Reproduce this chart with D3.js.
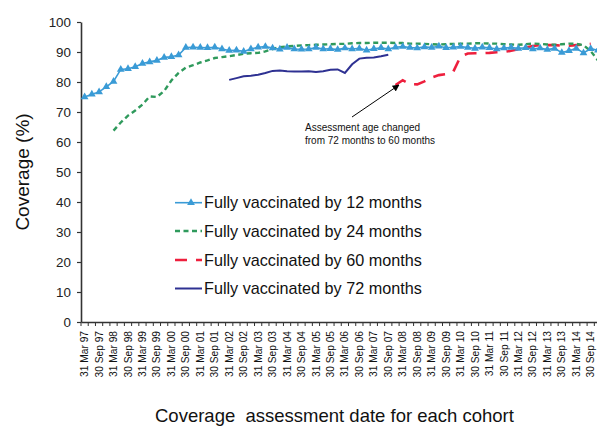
<!DOCTYPE html>
<html>
<head>
<meta charset="utf-8">
<script src="https://cdn.jsdelivr.net/npm/d3@7"></script>
<style>
  body { margin: 0; background: #fff; }
  svg { display: block; font-family: "Liberation Sans", Arial, sans-serif; }
</style>
</head>
<body>
<div id="chart"></div>
<script>
// quarterly assessment dates (categories)
const quarters = [
    "31 Mar 97", "30 Jun 97", "30 Sep 97", "31 Dec 97",
    "31 Mar 98", "30 Jun 98", "30 Sep 98", "31 Dec 98",
    "31 Mar 99", "30 Jun 99", "30 Sep 99", "31 Dec 99",
    "31 Mar 00", "30 Jun 00", "30 Sep 00", "31 Dec 00",
    "31 Mar 01", "30 Jun 01", "30 Sep 01", "31 Dec 01",
    "31 Mar 02", "30 Jun 02", "30 Sep 02", "31 Dec 02",
    "31 Mar 03", "30 Jun 03", "30 Sep 03", "31 Dec 03",
    "31 Mar 04", "30 Jun 04", "30 Sep 04", "31 Dec 04",
    "31 Mar 05", "30 Jun 05", "30 Sep 05", "31 Dec 05",
    "31 Mar 06", "30 Jun 06", "30 Sep 06", "31 Dec 06",
    "31 Mar 07", "30 Jun 07", "30 Sep 07", "31 Dec 07",
    "31 Mar 08", "30 Jun 08", "30 Sep 08", "31 Dec 08",
    "31 Mar 09", "30 Jun 09", "30 Sep 09", "31 Dec 09",
    "31 Mar 10", "30 Jun 10", "30 Sep 10", "31 Dec 10",
    "31 Mar 11", "30 Jun 11", "30 Sep 11", "31 Dec 11",
    "31 Mar 12", "30 Jun 12", "30 Sep 12", "31 Dec 12",
    "31 Mar 13", "30 Jun 13", "30 Sep 13", "31 Dec 13",
    "31 Mar 14", "30 Jun 14", "30 Sep 14", "31 Dec 14"
];

// only Mar / Sep are labelled
const tickLabels = quarters.filter((q, i) => i % 2 === 0);
const yTicks = [0, 10, 20, 30, 40, 50, 60, 70, 80, 90, 100];

// coverage (%) per quarter, null = no data
const by12 = [
    75.0, 75.9, 76.7, 78.4, 80.2, 84.2, 84.4, 85.1, 86.2, 86.7, 87.2, 88.2,
    88.4, 89.0, 91.5, 91.6, 91.5, 91.4, 91.6, 91.0, 90.5, 90.6, 90.2, 91.0,
    91.6, 91.8, 91.3, 90.9, 91.5, 91.0, 90.9, 91.0, 91.5, 91.0, 91.1, 90.8,
    91.3, 91.0, 91.2, 90.6, 91.1, 91.4, 91.0, 91.6, 91.8, 91.5, 91.3, 91.7,
    91.5, 91.9, 91.4, 91.6, 91.8, 91.5, 91.2, 91.6, 91.4, 91.0, 91.3, 91.5,
    91.2, 91.4, 91.0, 91.3, 90.8, 91.2, 89.8, 90.4, 91.2, 89.7, 91.1, 90.6
];
const by24 = [
    null, null, null, null, 63.8, 66.5, 68.8, 70.5, 72.5, 75.2, 75.0, 77.0,
    80.5, 83.0, 84.8, 85.6, 86.5, 87.2, 88.0, 88.3, 88.6, 89.0, 89.4, 89.6,
    89.7, 90.2, 91.0, 91.6, 91.9, 92.0, 92.2, 92.3, 92.4, 92.5, 92.6, 92.7,
    92.7, 92.9, 93.0, 93.0, 93.1, 93.1, 93.1, 93.0, 93.0, 92.8, 92.8, 92.7,
    92.6, 92.5, 92.6, 92.7, 92.8, 92.8, 92.9, 92.9, 92.8, 92.8, 92.6, 92.5,
    92.4, 92.6, 92.8, 92.7, 92.5, 92.4, 92.6, 92.8, 92.7, 92.3, 90.3, 87.2
];
const by60 = [
    null, null, null, null, null, null, null, null, null, null, null, null,
    null, null, null, null, null, null, null, null, null, null, null, null,
    null, null, null, null, null, null, null, null, null, null, null, null,
    null, null, null, null, null, null, null, 79.0, 80.6, 79.3, 79.2, 80.2,
    81.5, 82.3, 82.6, 83.5, 88.5, 89.5, 89.6, 89.6, 89.7, 89.9, 90.0, 90.4,
    90.9, 91.5, 92.0, 92.3, 92.3, 92.3, 92.1, 92.1, 92.3, 92.5, 92.7, null
];
const by72 = [
    null, null, null, null, null, null, null, null, null, null, null, null,
    null, null, null, null, null, null, null, null, 80.7, 81.3, 81.9, 82.1,
    82.4, 83.0, 83.7, 83.8, 83.6, 83.5, 83.5, 83.6, 83.3, 83.6, 84.1, 84.2,
    83.0, 85.9, 87.8, 88.1, 88.2, 88.6, 89.1, null, null, null, null, null,
    null, null, null, null, null, null, null, null, null, null, null, null,
    null, null, null, null, null, null, null, null, null, null, null, null
];

const seriesNames = [
    "Fully vaccinated by 12 months",
    "Fully vaccinated by 24 months",
    "Fully vaccinated by 60 months",
    "Fully vaccinated by 72 months"
];

function drawChart() {
    const width = 597, height = 426;
    const left = 81, top = 22, bottom = 322, band = 7.23;

    const svg = d3.select("#chart").append("svg")
        .attr("width", width)
        .attr("height", height);

    const x = d3.scaleBand()
        .domain(quarters)
        .range([left, left + quarters.length * band]);
    const y = d3.scaleLinear().domain([0, 100]).range([bottom, top]);
    const cx = q => x(q) + x.bandwidth() / 2;

    // y axis
    const yAxis = svg.append("g")
        .attr("transform", `translate(${left},0)`)
        .call(d3.axisLeft(y).tickValues(yTicks).tickSize(4).tickSizeOuter(0).tickPadding(6));
    yAxis.selectAll("text").attr("font-size", "13.4px").attr("fill", "#222");
    yAxis.select(".domain").attr("stroke", "#333").attr("stroke-width", 1.6);
    yAxis.selectAll(".tick line").attr("stroke", "#333").attr("stroke-width", 1.2);

    // x axis: ticks between categories, labels on Mar/Sep
    const xAxis = svg.append("g")
        .attr("transform", `translate(0,${bottom})`)
        .call(d3.axisBottom(x).tickValues(tickLabels).tickSize(0).tickSizeOuter(0));
    xAxis.select(".domain").attr("stroke", "#333").attr("stroke-width", 1.6);
    xAxis.selectAll(".tick text")
        .attr("font-size", "10.2px")
        .attr("fill", "#111")
        .attr("transform", "rotate(-90)")
        .attr("x", -9)
        .attr("y", 0)
        .attr("dy", "0.35em")
        .style("text-anchor", "end");
    xAxis.selectAll(".bound")
        .data(quarters.concat([null]))
        .enter().append("line")
        .attr("x1", (d, i) => left + i * x.step())
        .attr("x2", (d, i) => left + i * x.step())
        .attr("y1", 0).attr("y2", 4)
        .attr("stroke", "#333");

    const line = d3.line()
        .defined(d => d.v !== null)
        .x(d => cx(d.q))
        .y(d => y(d.v));
    const toPts = arr => arr.map((v, i) => ({ q: quarters[i], v: v }));

    const styles = [
        { data: by12, color: "#3a9bd6", width: 1.6, dash: null },
        { data: by24, color: "#2f9a5c", width: 2.4, dash: "5,3.5" },
        { data: by60, color: "#ee1f3d", width: 2.6, dash: "12,9" },
        { data: by72, color: "#2e3192", width: 2, dash: null }
    ];

    // draw order: 72, 60, 24, 12 on top
    [3, 2, 1, 0].forEach(k => {
        const s = styles[k];
        svg.append("path")
            .datum(toPts(s.data))
            .attr("d", line)
            .attr("fill", "none")
            .attr("stroke", s.color)
            .attr("stroke-width", s.width)
            .attr("stroke-dasharray", s.dash);
    });

    const tri = d3.symbol().type(d3.symbolTriangle).size(26);
    svg.selectAll(".m12")
        .data(toPts(by12).filter(d => d.v !== null))
        .enter().append("path")
        .attr("d", tri)
        .attr("transform", d => `translate(${cx(d.q)},${y(d.v)})`)
        .attr("fill", "#3a9bd6");

    // legend
    const legY = [202.7, 231, 260, 288.5];
    seriesNames.forEach((name, k) => {
        const s = styles[k];
        const g = svg.append("g").attr("transform", `translate(0,${legY[k]})`);
        g.append("line")
            .attr("x1", 175).attr("x2", 202)
            .attr("y1", 0).attr("y2", 0)
            .attr("stroke", s.color)
            .attr("stroke-width", s.width)
            .attr("stroke-dasharray", s.dash);
        if (k === 0) {
            g.append("path").attr("d", tri).attr("transform", "translate(191,0)").attr("fill", s.color);
        }
        g.append("text")
            .attr("x", 204).attr("y", 0)
            .attr("dy", "0.35em")
            .attr("font-size", "16.2px")
            .attr("fill", "#111")
            .text(name);
    });

    // annotation
    svg.append("defs").append("marker")
        .attr("id", "arrow")
        .attr("viewBox", "0 0 10 10")
        .attr("refX", 9).attr("refY", 5)
        .attr("markerWidth", 7).attr("markerHeight", 7)
        .attr("orient", "auto")
        .append("path").attr("d", "M0,0 L10,5 L0,10 z").attr("fill", "#000");
    svg.append("line")
        .attr("x1", 352).attr("y1", 117)
        .attr("x2", 399).attr("y2", 85)
        .attr("stroke", "#000").attr("stroke-width", 1)
        .attr("marker-end", "url(#arrow)");
    const note = svg.append("text").attr("font-size", "10px").attr("fill", "#111");
    note.append("tspan").attr("x", 305).attr("y", 131).text("Assessment age changed");
    note.append("tspan").attr("x", 305).attr("y", 144).text("from 72 months to 60 months");

    // axis titles
    svg.append("text")
        .attr("transform", "translate(29,172) rotate(-90)")
        .attr("text-anchor", "middle")
        .attr("font-size", "19px")
        .attr("fill", "#111")
        .text("Coverage (%)");
    svg.append("text")
        .attr("x", 155).attr("y", 422)
        .attr("font-size", "18.5px")
        .attr("fill", "#111")
        .style("white-space", "pre")
        .text("Coverage  assessment date for each cohort");
}

drawChart();
</script>
</body>
</html>
